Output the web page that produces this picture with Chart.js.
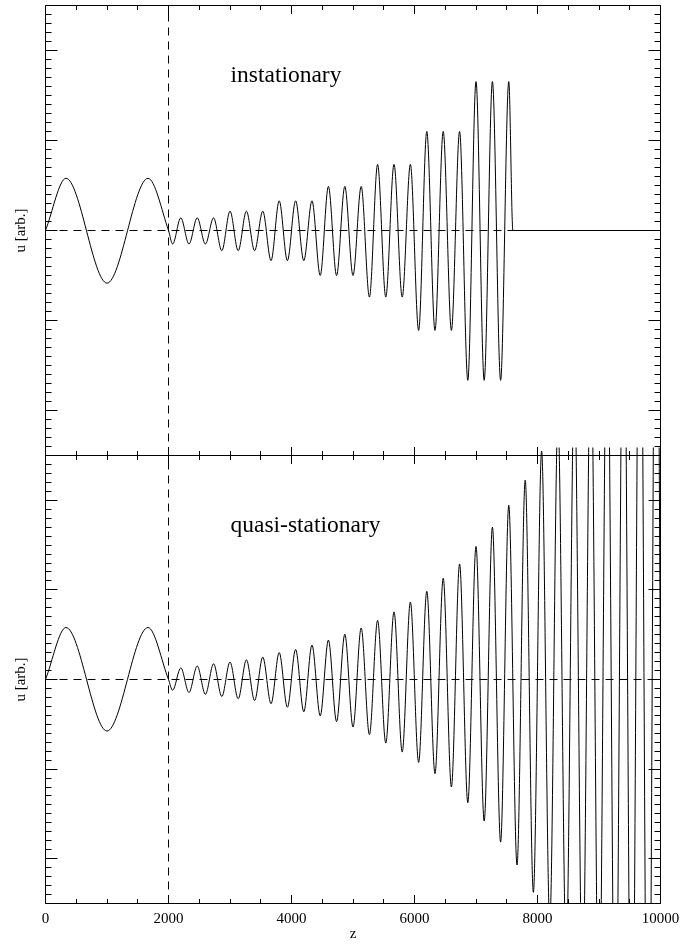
<!DOCTYPE html>
<html>
<head>
<meta charset="utf-8">
<script src="https://cdn.jsdelivr.net/npm/chart.js@4.4.1/dist/chart.umd.min.js"></script>
<style>
  html, body { margin: 0; padding: 0; background: #ffffff; }
  #wrap { position: relative; width: 692px; height: 947px; }
  #wrap canvas { position: absolute; left: 0; top: 0; }
</style>
</head>
<body>
<div id="wrap">
  <canvas id="chartTop" width="692" height="947"></canvas>
  <canvas id="chartBottom" width="692" height="947"></canvas>
</div>
<script>
// ---------------- data ----------------
// z positions of the peaks / troughs of u
const zExtrema = [333, 1000, 1667,
  2067, 2200, 2333, 2467, 2600, 2733, 2867, 3000, 3133, 3267, 3400, 3533,
  3667, 3800, 3933, 4067, 4200, 4333, 4467, 4600, 4733, 4867, 5000, 5133,
  5267, 5400, 5533, 5667, 5800, 5933, 6067, 6200, 6333, 6467, 6600, 6733,
  6867, 7000, 7133, 7267, 7400, 7533, 7667, 7800, 7933, 8067, 8200, 8333,
  8467, 8600, 8733, 8867, 9000, 9133, 9267, 9400, 9533, 9667, 9800, 9933];

// z positions where u is zero (start, junction at z=2000, end points)
const zZeroShared = [0, 2000];
const zZeroInstationary = [7600, 10000];
const zZeroQuasiStationary = [10000];

// u at each extremum, upper panel (instationary) — pulse ends at z = 7600
const uInstationary = [0.58, -0.585, 0.58,
  -0.15, 0.14, -0.15, 0.14, -0.15, 0.14,
  -0.225, 0.215, -0.225, 0.215, -0.225, 0.215,
  -0.335, 0.33, -0.335, 0.33, -0.335, 0.33,
  -0.50, 0.49, -0.50, 0.49, -0.50, 0.49,
  -0.74, 0.735, -0.74, 0.735, -0.74, 0.735,
  -1.11, 1.10, -1.11, 1.10, -1.11, 1.10,
  -1.665, 1.655, -1.665, 1.655, -1.665, 1.655];

// u at each extremum, lower panel (quasi-stationary)
const uQuasiStationary = [0.58, -0.575, 0.58,
  -0.12, 0.13, -0.145, 0.15, -0.165, 0.175,
  -0.19, 0.195, -0.215, 0.22, -0.235, 0.25,
  -0.27, 0.30, -0.31, 0.335, -0.36, 0.385,
  -0.405, 0.44, -0.47, 0.505, -0.53, 0.575,
  -0.615, 0.66, -0.71, 0.755, -0.81, 0.865,
  -0.925, 0.985, -1.05, 1.13, -1.20, 1.29,
  -1.375, 1.485, -1.58, 1.70, -1.815, 1.945,
  -2.07, 2.225, -2.375, 2.55, -2.72, 2.92,
  -3.12, 3.34, -3.57, 3.82, -4.09, 4.38,
  -4.68, 5.0, -5.36, 5.73, -6.13, 6.56];

const xTickLabels = [0, 2000, 4000, 6000, 8000, 10000];
const panelTitles = ['instationary', 'quasi-stationary'];
const markerZ = [2000];
const yLabel = 'u [arb.]';
const xLabel = 'z';

// ---------------- helpers ----------------
const SERIF = '"Liberation Serif", "Times New Roman", serif';

function buildCurve(uValues, zeroZ) {
  const pts = uValues.map((u, i) => ({ x: zExtrema[i], y: u }));
  zeroZ.forEach(z => pts.push({ x: z, y: 0 }));
  pts.sort((a, b) => a.x - b.x);
  return pts;
}

// frame with inward IDL-style tick marks, plus the panel caption
const framePlugin = {
  id: 'frameTicks',
  afterDatasetsDraw(chart, args, opts) {
    const { ctx, chartArea: a, scales } = chart;
    const xs = scales.x, ys = scales.y;
    ctx.save();
    ctx.strokeStyle = '#000';
    ctx.lineWidth = 1;
    const L = a.left, R = a.right, T = a.top, B = a.bottom;
    ctx.beginPath();
    ctx.moveTo(L, T); ctx.lineTo(R, T); ctx.lineTo(R, B); ctx.lineTo(L, B); ctx.closePath();
    ctx.stroke();
    ctx.beginPath();
    for (let v = 0; v <= 10000; v += 500) {
      const px = Math.floor(xs.getPixelForValue(v)) + 0.5;
      const len = (v % 2000 === 0) ? 8.5 : 4.5;
      ctx.moveTo(px, T); ctx.lineTo(px, T + len);
      ctx.moveTo(px, B); ctx.lineTo(px, B - len);
    }
    for (let k = -25; k <= 25; k++) {
      const py = Math.floor(ys.getPixelForValue(k / 10)) + 0.5;
      const len = (k % 10 === 0) ? 12 : 6;
      ctx.moveTo(L, py); ctx.lineTo(L + len, py);
      ctx.moveTo(R, py); ctx.lineTo(R - len, py);
    }
    ctx.stroke();
    ctx.fillStyle = '#000';
    ctx.font = '23.5px ' + SERIF;
    ctx.textBaseline = 'alphabetic';
    ctx.textAlign = 'left';
    ctx.fillText(opts.caption, a.left + 185, a.top + 76.5);
    ctx.restore();
  }
};

function makeChart(canvasId, uValues, zeroZ, caption, isBottom) {
  return new Chart(document.getElementById(canvasId), {
    type: 'line',
    data: {
      datasets: [
        {
          data: buildCurve(uValues, zeroZ),
          borderColor: '#000', borderWidth: 1, pointRadius: 0,
          cubicInterpolationMode: 'monotone', fill: false, order: 0,
          clip: isBottom ? { left: 0, top: 8, right: 0, bottom: 0 } : 0
        },
        {
          data: [{ x: 0, y: 0 }, { x: 10000, y: 0 }],
          borderColor: '#000', borderWidth: 1, pointRadius: 0,
          borderDash: [8, 6], tension: 0, fill: false, order: 1
        },
        {
          data: [{ x: markerZ[0], y: -2.5 }, { x: markerZ[0], y: 2.5 }],
          borderColor: '#000', borderWidth: 1, pointRadius: 0,
          borderDash: [8, 6], tension: 0, fill: false, order: 1
        }
      ]
    },
    options: {
      responsive: false,
      animation: false,
      devicePixelRatio: 1,
      events: [],
      elements: { line: { capBezierPoints: false } },
      layout: {
        padding: isBottom
          ? { top: 455.5, bottom: 0, left: 0, right: 31.5 }
          : { top: 5.5, bottom: 491.5, left: 0, right: 31.5 }
      },
      plugins: {
        legend: { display: false },
        tooltip: { enabled: false },
        frameTicks: { caption: caption }
      },
      scales: {
        x: {
          type: 'linear', min: 0, max: 10000,
          display: isBottom,
          grid: { display: false, drawTicks: false },
          border: { display: false },
          afterBuildTicks: s => { s.ticks = xTickLabels.map(v => ({ value: v })); },
          ticks: {
            color: '#000', font: { family: SERIF, size: 15 },
            padding: 7, maxRotation: 0, autoSkip: false,
            callback: v => String(v)
          },
          title: {
            display: true, text: xLabel, color: '#000',
            font: { family: SERIF, size: 15 }, padding: { top: 0, bottom: 4 }
          },
          afterFit: s => { if (isBottom) s.height = 43.5; }
        },
        y: {
          type: 'linear', min: -2.5, max: 2.5,
          grid: { display: false, drawTicks: false },
          border: { display: false },
          ticks: { display: false },
          title: {
            display: true, text: yLabel, color: '#000',
            font: { family: SERIF, size: 15 }, padding: { top: 12, bottom: 0 }
          },
          afterFit: s => { s.width = 45.5; }
        }
      }
    },
    plugins: [framePlugin]
  });
}

makeChart('chartTop', uInstationary, zZeroShared.concat(zZeroInstationary), panelTitles[0], false);
makeChart('chartBottom', uQuasiStationary, zZeroShared.concat(zZeroQuasiStationary), panelTitles[1], true);
</script>
</body>
</html>
